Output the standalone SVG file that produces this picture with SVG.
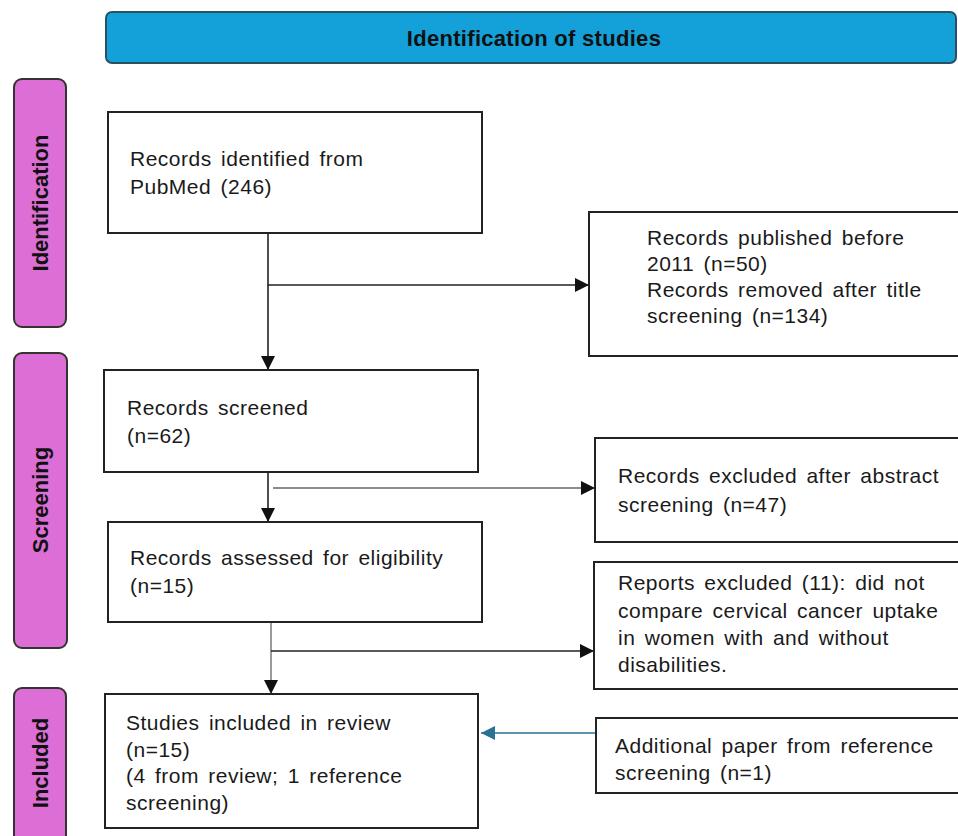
<svg xmlns="http://www.w3.org/2000/svg" width="958" height="836" viewBox="0 0 958 836">
<defs>
<style>
.box{fill:#fff;stroke:#222;stroke-width:2}
.lane{fill:#dc6ed5;stroke:#333;stroke-width:2}
.lbl{font-family:"Liberation Sans",Arial,sans-serif;font-size:21px;fill:#1a1a1a;letter-spacing:0.5px;word-spacing:3px}
.lane-t{font-family:"Liberation Sans",Arial,sans-serif;font-size:22px;font-weight:bold;fill:#111;text-anchor:middle}
.hdr{font-family:"Liberation Sans",Arial,sans-serif;font-size:22px;font-weight:bold;fill:#111;text-anchor:middle;letter-spacing:0.3px}
.c{fill:none;stroke:#222;stroke-width:1.6}
.cg{fill:none;stroke:#666;stroke-width:1.3}
.cb{fill:none;stroke:#2b7191;stroke-width:1.6}
</style>
<marker id="ah" markerUnits="userSpaceOnUse" markerWidth="15" markerHeight="14" refX="14" refY="7" orient="auto"><path d="M0,0 L14,7 L0,14 Z" fill="#111"/></marker>
<marker id="ahb" markerUnits="userSpaceOnUse" markerWidth="15" markerHeight="14" refX="14" refY="7" orient="auto"><path d="M0,0 L14,7 L0,14 Z" fill="#2b7191"/></marker>
</defs>

<g id="header">
<rect x="106" y="12" width="850" height="51" rx="6" fill="#14a0d8" stroke="#2b4f63" stroke-width="2"/>
<text class="hdr" x="534" y="46">Identification of studies</text>
</g>

<g id="lane-identification">
<rect class="lane" x="14" y="79" width="52" height="248" rx="8"/>
<text class="lane-t" transform="translate(48,203) rotate(-90)">Identification</text>
</g>
<g id="lane-screening">
<rect class="lane" x="14" y="353" width="53" height="295" rx="8"/>
<text class="lane-t" transform="translate(48,500) rotate(-90)">Screening</text>
</g>
<g id="lane-included">
<rect class="lane" x="14" y="688" width="52" height="160" rx="8"/>
<text class="lane-t" transform="translate(48,763) rotate(-90)">Included</text>
</g>

<g id="connectors">
<path class="c" d="M268,233 V370" marker-end="url(#ah)"/>
<path class="c" d="M268,285 H589" marker-end="url(#ah)"/>
<path class="c" d="M268,472 V522" marker-end="url(#ah)"/>
<path class="cg" d="M273,488 H595" marker-end="url(#ah)"/>
<path class="cg" d="M271,622 V694" marker-end="url(#ah)"/>
<path class="c" d="M271,651 H594" marker-end="url(#ah)"/>
<path class="cb" d="M596,733 H481" marker-end="url(#ahb)"/>
</g>

<g id="n1">
<rect class="box" x="108" y="112" width="374" height="121"/>
<text class="lbl" x="130" y="166">Records identified from</text>
<text class="lbl" x="130" y="194">PubMed  (246)</text>
</g>
<g id="n2">
<rect class="box" x="589" y="212" width="380" height="144"/>
<text class="lbl" x="647" y="245">Records published before</text>
<text class="lbl" x="647" y="271">2011 (n=50)</text>
<text class="lbl" x="647" y="297">Records removed after title</text>
<text class="lbl" x="647" y="323">screening (n=134)</text>
</g>
<g id="n3">
<rect class="box" x="104" y="370" width="374" height="102"/>
<text class="lbl" x="127" y="415">Records screened</text>
<text class="lbl" x="127" y="443">(n=62)</text>
</g>
<g id="n4">
<rect class="box" x="108" y="522" width="374" height="100"/>
<text class="lbl" x="130" y="565">Records assessed for eligibility</text>
<text class="lbl" x="130" y="593">(n=15)</text>
</g>
<g id="n5">
<rect class="box" x="595" y="438" width="374" height="104"/>
<text class="lbl" x="618" y="483">Records excluded after abstract</text>
<text class="lbl" x="618" y="512">screening (n=47)</text>
</g>
<g id="n6">
<rect class="box" x="594" y="562" width="375" height="127"/>
<text class="lbl" x="618" y="590">Reports excluded (11): did not</text>
<text class="lbl" x="618" y="618">compare cervical cancer uptake</text>
<text class="lbl" x="618" y="645">in women with and without</text>
<text class="lbl" x="618" y="672">disabilities.</text>
</g>
<g id="n7">
<rect class="box" x="105" y="694" width="373" height="134"/>
<text class="lbl" x="126" y="730">Studies included in review</text>
<text class="lbl" x="126" y="757">(n=15)</text>
<text class="lbl" x="126" y="783">(4 from review; 1 reference</text>
<text class="lbl" x="126" y="810">screening)</text>
</g>
<g id="n8">
<rect class="box" x="596" y="718" width="373" height="75"/>
<text class="lbl" x="615" y="753">Additional paper from reference</text>
<text class="lbl" x="615" y="780">screening (n=1)</text>
</g>
</svg>
